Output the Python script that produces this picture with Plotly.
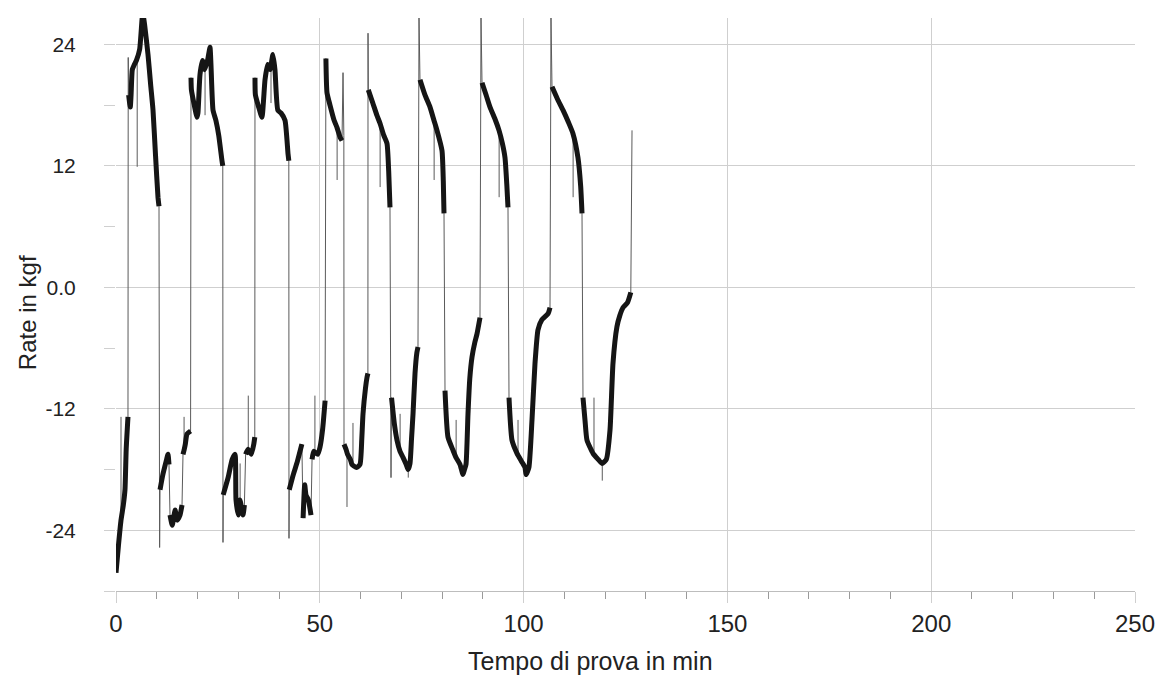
import plotly.graph_objects as go

# ---- data (time in min, rate in kgf) ----
time_min = [
    0.0, 0.6, 1.23, 1.8, 2.2, 2.5, 2.94,
    3.0, 3.1, 3.5, 3.7, 4.0, 4.5, 5.0, 5.8, 6.4, 6.6, 7.0, 7.85, 8.5, 9.08, 9.7, 10.3, 10.55,
    10.7, 10.8, 11.5, 12.3, 12.76, 13.0, 13.25, 13.8, 14.5, 15.0, 15.7, 16.2, 16.44, 16.75, 17.0, 17.42, 18.3,
    18.4, 18.5, 19.2, 19.87, 20.1, 20.6, 21.2, 21.8, 22.5, 23.06, 23.3, 23.8, 24.5, 25.2, 26.0, 26.2,
    26.25, 26.3, 27.5, 28.5, 29.2, 29.44, 30.0, 30.4, 31.16, 31.5, 31.8, 32.4, 33.2, 33.8, 34.05,
    34.1, 34.2, 35.0, 35.8, 36.56, 37.2, 37.8, 38.5, 39.0, 39.7, 40.5, 41.46, 42.2, 42.4,
    42.44, 42.5, 43.5, 44.5, 45.6, 45.9, 46.3, 46.6, 47.2, 47.84, 48.1, 48.5, 49.5, 50.05, 50.7, 51.3,
    51.5, 51.77, 52.5, 53.5, 54.2, 55.0, 55.45, 55.7, 55.9,
    55.94, 56.43, 56.8, 57.5, 57.9, 59.0, 59.86, 60.3, 60.6, 61.2, 61.58, 61.8,
    61.83, 61.9, 63.0, 64.0, 64.77, 65.7, 66.49, 66.9, 67.22,
    67.47, 67.6, 68.3, 68.94, 69.68, 70.41, 71.2, 71.64, 72.13, 72.5, 72.87, 73.36, 73.8, 74.09,
    74.34, 74.58, 75.8, 77.04, 78.0, 78.75, 79.98, 80.3, 80.47,
    80.72, 81.45, 82.68, 83.4, 84.4, 85.13, 85.5, 85.87, 86.36, 86.8, 87.34, 88.0, 88.57, 89.3,
    89.55, 89.8, 90.8, 91.76, 93.0, 93.97, 94.8, 95.44, 95.9, 96.17,
    96.42, 97.15, 98.38, 99.5, 100.34, 100.6, 101.3, 102.06, 102.8, 103.53, 104.5, 106.0, 106.48,
    106.72, 106.97, 108.3, 109.67, 111.0, 112.1, 113.34, 114.0, 114.33,
    114.57, 115.06, 115.55, 117.03, 118.3, 119.23, 120.3, 121.2, 121.93, 122.9, 123.6, 124.4, 125.5, 126.3,
    126.6,
]
rate_kgf = [
    -28.2, -25.5, -23.0, -21.5, -20.0, -16.0, -12.8,
    22.7, 19.0, 17.8, 19.0, 21.5, 22.0, 22.4, 23.5, 26.5, 27.0, 26.0, 23.0, 20.0, 17.5, 13.0, 8.9, 8.0,
    -25.7, -20.0, -18.5, -17.2, -16.5, -17.5, -22.5, -23.5, -22.0, -23.0, -22.5, -21.5, -16.5, -16.0, -15.5, -14.5, -14.2,
    20.7, 19.5, 18.0, 16.8, 17.2, 21.0, 22.4, 21.5, 22.5, 23.7, 22.0, 17.5, 16.5, 15.0, 12.5, 12.0,
    -25.2, -20.5, -18.8, -17.0, -16.5, -21.0, -22.5, -21.0, -22.5, -21.5, -16.5, -16.0, -16.5, -15.5, -14.8,
    20.7, 19.0, 17.8, 16.8, 20.5, 22.0, 21.5, 23.0, 21.5, 17.5, 17.2, 16.5, 13.2, 12.5,
    -24.8, -20.0, -18.5, -17.2, -15.5, -22.8, -19.5, -20.5, -21.0, -22.5, -17.0, -16.2, -16.5, -15.8, -14.0, -11.2,
    22.6, 19.2, 18.0, 16.5, 15.8, 14.8, 14.5, 21.2, 15.0,
    -15.5, -16.0, -16.5, -17.0, -17.5, -17.8, -17.5, -15.0, -12.5, -10.0, -8.9, -8.5,
    25.1, 19.5, 18.2, 17.0, 16.2, 15.0, 14.2, 11.5, 7.9,
    -18.8, -10.9, -13.5, -15.1, -16.2, -16.8, -17.5, -18.0, -17.4, -15.0, -12.5, -8.5, -6.5, -5.9,
    26.6, 20.5, 19.0, 17.8, 16.5, 15.5, 13.5, 10.5, 7.3,
    -10.2, -14.8, -16.1, -16.8, -17.5, -18.5, -18.0, -17.5, -12.5, -9.0, -6.9, -5.5, -4.6, -3.0,
    26.6, 20.2, 19.0, 17.8, 16.6, 15.5, 14.2, 12.8, 10.0, 7.9,
    -10.9, -15.1, -16.4, -17.2, -17.8, -18.5, -17.8, -13.1, -7.5, -4.2, -3.2, -2.6, -2.0,
    26.6, 19.8, 18.6, 17.5, 16.3, 15.2, 12.8, 10.0, 7.3,
    -10.9, -13.1, -15.1, -16.4, -17.0, -17.4, -17.0, -14.1, -7.5, -3.9, -2.8, -2.0, -1.5, -0.5,
    15.5,
]

# short isolated spikes (time, level of the trace, spike extreme)
spike_time = [1.23, 5.2, 16.7, 21.85, 30.45, 32.45, 38.03, 48.8, 54.25, 56.67, 58.14, 64.8,
              69.7, 71.7, 78.05, 83.45, 94.0, 98.63, 112.15, 117.27, 119.3]
spike_base = [-23.0, 22.4, -16.0, 21.5, -21.0, -16.0, 21.5, -16.2, 15.8, -16.0, -17.5, 16.2,
              -16.2, -18.0, 16.5, -16.8, 15.5, -16.4, 15.2, -16.4, -17.4]
spike_peak = [-12.8, 11.9, -12.8, 17.0, -17.4, -10.7, 18.2, -10.7, 10.6, -21.7, -13.4, 9.9,
              -12.5, -18.8, 10.6, -13.1, 8.9, -13.1, 8.9, -10.9, -19.1]

x_major = [0, 50, 100, 150, 200, 250]
y_ticks = [24, 12, 0, -12, -24]
y_ticktext = ["24", "12", "0.0", "-12", "-24"]
x_title = "Tempo di prova in min"
y_title = "Rate in kgf"

# ---- build derived drawing arrays ----
thick_x, thick_y = [], []
for i in range(len(time_min)):
    if i > 0:
        dt = time_min[i] - time_min[i - 1]
        dv = abs(rate_kgf[i] - rate_kgf[i - 1])
        if dv > 3.0 and dt < 0.15:
            thick_x.append(None)
            thick_y.append(None)
        elif dv > 4.5 and dt < 0.4:
            thick_x.append(None)
            thick_y.append(None)
    thick_x.append(time_min[i])
    thick_y.append(rate_kgf[i])

sp_x, sp_y = [], []
for t, b, p in zip(spike_time, spike_base, spike_peak):
    sp_x += [t, t, None]
    sp_y += [b, p, None]

GRID = "#cfcfcf"
TEXT = "#222222"
FONT = "Liberation Sans, Arial, sans-serif"

fig = go.Figure()
fig.add_trace(go.Scatter(x=time_min, y=rate_kgf, mode="lines",
                         line=dict(color="#5a5a5a", width=1), hoverinfo="skip", showlegend=False))
fig.add_trace(go.Scatter(x=sp_x, y=sp_y, mode="lines",
                         line=dict(color="#5a5a5a", width=1), hoverinfo="skip", showlegend=False))
fig.add_trace(go.Scatter(x=thick_x, y=thick_y, mode="lines",
                         line=dict(color="#151515", width=5, shape="spline", smoothing=0.5),
                         hoverinfo="skip", showlegend=False))

fig.update_layout(
    width=1163, height=678,
    margin=dict(l=108, r=36, t=10, b=95),
    paper_bgcolor="white", plot_bgcolor="white",
    font=dict(family=FONT, color=TEXT),
    showlegend=False,
    xaxis=dict(
        range=[0, 250], tickvals=x_major, ticks="outside", ticklen=11, tickcolor=GRID,
        showgrid=True, gridcolor=GRID, gridwidth=1, zeroline=False, automargin=False,
        showline=True, linecolor="#bdbdbd", linewidth=1,
        minor=dict(ticks="outside", ticklen=7, dtick=10, tick0=0, tickcolor="#9a9a9a", showgrid=False),
        tickfont=dict(size=24, color=TEXT, family=FONT),
    ),
    xaxis2=dict(
        range=[0, 250], overlaying="x", anchor="y", side="bottom", showgrid=False, zeroline=False,
        showticklabels=False, ticks="", showline=False, automargin=False,
        minor=dict(ticks="inside", ticklen=6, dtick=10, tick0=0, tickcolor="#9a9a9a", showgrid=False),
    ),
    yaxis=dict(
        range=[-30, 26.6], tickvals=y_ticks, ticktext=y_ticktext, ticks="outside", ticklen=11,
        tickcolor=GRID, showgrid=True, gridcolor=GRID, gridwidth=1, zeroline=False, showline=False,
        automargin=False,
        minor=dict(ticks="outside", ticklen=11, tick0=6, dtick=12, tickcolor=GRID, showgrid=False),
        tickfont=dict(size=21, color=TEXT, family=FONT), ticklabelstandoff=24,
    ),
    annotations=[
        dict(text=x_title, xref="paper", yref="paper", x=0.466, y=-0.122,
             xanchor="center", yanchor="middle", showarrow=False,
             font=dict(size=25, color=TEXT, family=FONT)),
        dict(text=y_title, xref="paper", yref="paper", x=-0.0873, y=0.485, textangle=-90,
             xanchor="center", yanchor="middle", showarrow=False,
             font=dict(size=24, color=TEXT, family=FONT)),
    ],
)

fig.write_html("out.html")
